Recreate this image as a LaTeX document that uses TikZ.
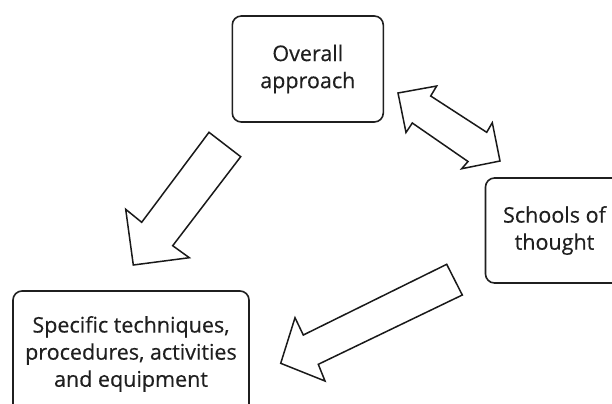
\documentclass[tikz,border=0pt]{standalone}
\usepackage{fontspec}
\setmainfont{Open Sans}
\newfontfamily\boxfont{Open Sans}[FakeBold=0.35]
\begin{document}
\begin{tikzpicture}[x=1bp,y=-1bp,
  box/.style={draw=black!88, line width=1.6bp, rounded corners=9bp, fill=none,
    align=center, text=black!88, inner sep=0pt,
    font=\boxfont\fontsize{21.6pt}{27.2pt}\selectfont},
  blockarrow/.style={draw=black!90, line width=1.5bp, fill=white, line join=miter}]
\useasboundingbox (0,0) rectangle (612,403);
\clip (0,0) rectangle (612,403);
\fill[white] (0,0) rectangle (612,403);
% boxes
\node[box, minimum width=151bp, minimum height=106bp] (overall) at (307.8,69) {Overall\\approach};
\node[box, minimum width=138bp, minimum height=105bp] (schools) at (554.5,230.5) {Schools of\\thought};
\node[box, minimum width=236bp, minimum height=126bp] (specific) at (131,354) {Specific techniques,\\procedures, activities\\and equipment};
% arrow overall -> specific
\draw[blockarrow] (209,132.3) -- (240.7,156.7) -- (172.7,245.7) -- (189.3,257.7)
  -- (133.3,265) -- (125.7,209.3) -- (141.7,222.3) -- cycle;
% double arrow overall <-> schools
\draw[blockarrow] (398,93) -- (436.7,86) -- (430.7,96) -- (486.7,132.3) -- (492.3,122.7)
  -- (500,161) -- (461.7,168.7) -- (468,161.5) -- (412.3,123) -- (406,132.5) -- cycle;
% arrow schools -> specific
\draw[blockarrow] (446.7,264.3) -- (462.3,295) -- (318.3,364.3) -- (325,381)
  -- (280.7,363.3) -- (295,317.7) -- (303.3,335) -- cycle;
\end{tikzpicture}
\end{document}
